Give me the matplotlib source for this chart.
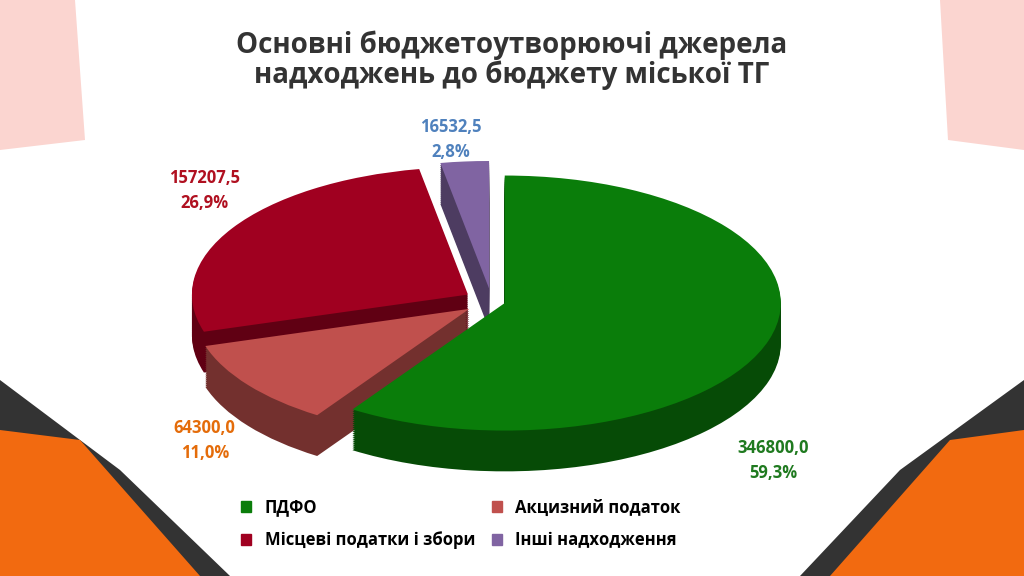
import numpy as np
import matplotlib.pyplot as plt
from matplotlib.patches import Polygon
import matplotlib.colors as mcolors

categories = ["ПДФО", "Акцизний податок", "Місцеві податки і збори", "Інші надходження"]
values = [346800.0, 64300.0, 157207.5, 16532.5]
percents = ["59,3%", "11,0%", "26,9%", "2,8%"]
value_labels = ["346800,0", "64300,0", "157207,5", "16532,5"]
colors = ["#0a7d0a", "#c0504d", "#a00020", "#8064a2"]
label_colors = ["#1f7a1f", "#e46c0a", "#b01020", "#4f81bd"]

plt.rcParams['font.family'] = ['Open Sans', 'DejaVu Sans']
fig = plt.figure(figsize=(10.24, 5.76), dpi=100)
fig.patch.set_facecolor("white")

# background decoration
bg = fig.add_axes([0, 0, 1, 1], zorder=-5)
bg.set_xlim(0, 1024); bg.set_ylim(576, 0); bg.axis("off")
for pts, c in [
    ([(0, 0), (75, 0), (85, 140), (0, 150)], "#fbd5d0"),
    ([(1024, 0), (940, 0), (948, 140), (1024, 150)], "#fbd5d0"),
    ([(0, 380), (120, 470), (230, 576), (0, 576)], "#333333"),
    ([(0, 430), (80, 440), (200, 576), (0, 576)], "#f26a10"),
    ([(1024, 380), (900, 470), (800, 576), (1024, 576)], "#333333"),
    ([(1024, 430), (950, 440), (830, 576), (1024, 576)], "#f26a10"),
]:
    bg.add_patch(Polygon(pts, closed=True, color=c, lw=0))

fig.text(0.5, 0.895, "Основні бюджетоутворюючі джерела\nнадходжень до бюджету міської ТГ",
         ha="center", va="center", fontsize=20, fontweight="bold", color="#333333",
         linespacing=1.0)

ax = fig.add_axes([0.17, 0.145, 0.62, 0.58])
ax.axis("off")
explode = [0.05, 0.1, 0.1, 0.1]
depth = 0.32
steps = 20
for i in range(steps, 0, -1):
    d = depth * i / steps
    dark = [tuple(np.array(mcolors.to_rgb(c)) * 0.6) for c in colors]
    ax.pie(values, colors=dark, startangle=90, counterclock=False,
           explode=explode, center=(0, -d), radius=1.0,
           wedgeprops=dict(linewidth=0))
ax.pie(values, colors=colors, startangle=90, counterclock=False,
       explode=explode, center=(0, 0), radius=1.0,
       wedgeprops=dict(linewidth=0))
ax.set_aspect("auto")
ax.set_xlim(-1.15, 1.15)
ax.set_ylim(-1.5, 1.12)

pos = [(0.755, 0.2), (0.2, 0.235), (0.2, 0.67), (0.44, 0.757)]
for (x, y), v, p, c in zip(pos, value_labels, percents, label_colors):
    fig.text(x, y, v + "\n" + p, ha="center", va="center", fontsize=12,
             fontweight="bold", color=c, linespacing=1.5)

order = [0, 2, 1, 3]
handles = [plt.Rectangle((0, 0), 1, 1, color=colors[i]) for i in order]
fig.legend(handles, [categories[i] for i in order], loc="lower center", ncol=2,
           frameon=False, bbox_to_anchor=(0.45, 0.02), handlelength=0.6,
           handleheight=0.6, columnspacing=1.0, labelspacing=0.9,
           prop=dict(weight="bold", size=12))

fig.savefig("out.png", dpi=100)
